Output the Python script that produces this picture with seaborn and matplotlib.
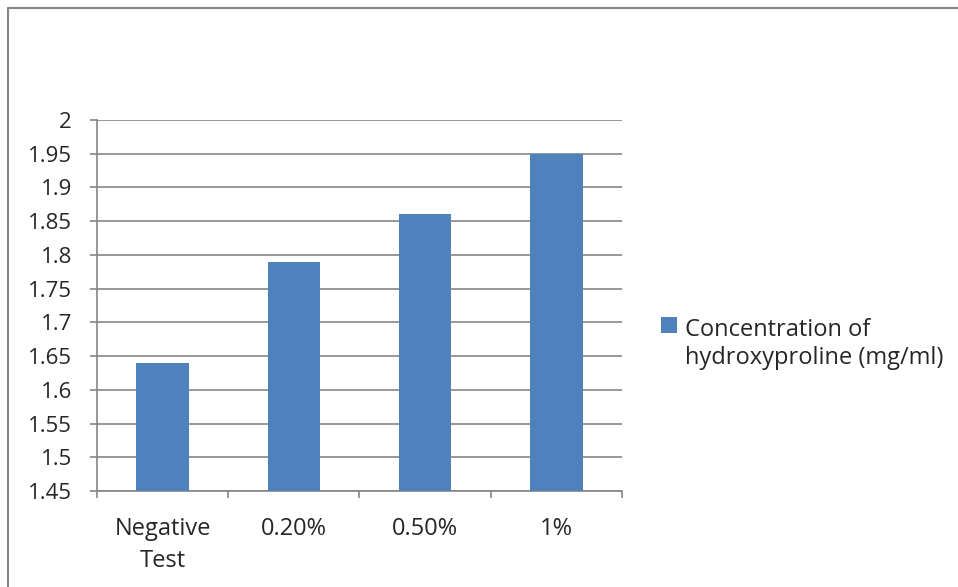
import matplotlib
matplotlib.use("Agg")
import matplotlib.pyplot as plt
from matplotlib.lines import Line2D
from matplotlib.ticker import MultipleLocator, FixedLocator
import seaborn as sns
import pandas as pd

categories = ["Negative\nTest", "0.20%", "0.50%", "1%"]
values = [1.64, 1.79, 1.86, 1.95]
series_name = "Concentration of\nhydroxyproline (mg/ml)"

sns.set_style("white")
plt.rcParams["font.family"] = ["Open Sans", "DejaVu Sans"]

BAR = "#4F81BD"
GRID = "#868686"
FS_Y = 16
FS_X = 17
FS_LEG = 17

df = pd.DataFrame({"category": categories, "value": values})

fig = plt.figure(figsize=(9.58, 5.87), dpi=100)
ax = fig.add_axes([97 / 958, 1 - 491 / 587, (622 - 97) / 958, (491 - 120) / 587])

sns.barplot(data=df, x="category", y="value", color=BAR, saturation=1,
            width=0.4, linewidth=0, ax=ax, zorder=3)

ax.set_ylim(1.45, 2.0)
ax.set_xlim(-0.5, len(categories) - 0.5)
ax.yaxis.set_major_locator(MultipleLocator(0.05))
ax.set_yticklabels([f"{v:g}" for v in ax.get_yticks()])
ax.set_xlabel("")
ax.set_ylabel("")

ax.yaxis.grid(True, color=GRID, linewidth=1.2, zorder=0)
ax.set_axisbelow(True)
for side in ["top", "right"]:
    ax.spines[side].set_visible(False)
for side in ["left", "bottom"]:
    ax.spines[side].set_color(GRID)
    ax.spines[side].set_linewidth(1.2)

ax.tick_params(axis="y", which="major", direction="out", length=5,
               width=1.2, color=GRID, labelsize=FS_Y, pad=13, left=True)
ax.tick_params(axis="x", which="major", length=0, labelsize=FS_X, pad=19)
ax.xaxis.set_minor_locator(FixedLocator([i - 0.5 for i in range(len(categories) + 1)]))
ax.tick_params(axis="x", which="minor", direction="out", length=5,
               width=1.2, color=GRID, bottom=True)
for lbl in ax.get_xticklabels():
    lbl.set_linespacing(1.4)

# square swatch lifted to sit beside the first line of the two-line label
handle = Line2D([], [], linestyle="none", marker="s", markersize=11,
                markerfacecolor=BAR, markeredgewidth=0)
leg = fig.legend([handle], [series_name], loc="upper left",
                 bbox_to_anchor=(661 / 958, 1 - 297 / 587),
                 frameon=False, fontsize=FS_LEG, handlelength=0.7,
                 handleheight=6.3, handletextpad=0.3, borderaxespad=0,
                 borderpad=0)
for t in leg.get_texts():
    t.set_linespacing(1.2)

# outer chart-area border (top and left edges)
fig.add_artist(Line2D([8 / 958, 1], [1 - 8 / 587, 1 - 8 / 587],
                      transform=fig.transFigure, color=GRID, linewidth=1.5))
fig.add_artist(Line2D([8 / 958, 8 / 958], [0, 1 - 8 / 587],
                      transform=fig.transFigure, color=GRID, linewidth=1.5))

fig.savefig("out.png", dpi=100)
